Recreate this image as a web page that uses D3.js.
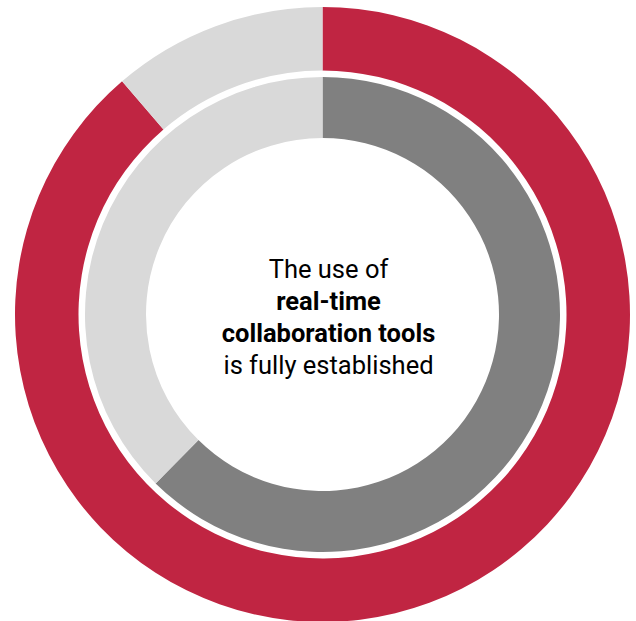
<!DOCTYPE html>
<meta charset="utf-8">
<style>
  body { margin: 0; background: #fff; }
  .label { font-family: Roboto, "Noto Sans", sans-serif; font-size: 25.5px; fill: #000; }
</style>
<body>
<script src="https://cdnjs.cloudflare.com/ajax/libs/d3/7.8.5/d3.min.js"></script>
<script>
  // values (share in %)
  var outerLabels = ["Yes", "No"];
  var outerValues = [88.7, 11.3];
  var innerLabels = ["Yes", "No"];
  var innerValues = [62.4, 37.6];
  var textLines = ["The use of", "real-time", "collaboration tools", "is fully established"];
  var boldLines = [false, true, true, false];

  var width = 636, height = 621;
  var cx = 322.5, cy = 314.5;

  var svg = d3.select("body").append("svg")
    .attr("width", width)
    .attr("height", height);

  var g = svg.append("g")
    .attr("transform", "translate(" + cx + "," + cy + ")");

  var pie = d3.pie().sort(null);

  var outerColor = d3.scaleOrdinal().domain(outerLabels).range(["#c02542", "#d9d9d9"]);
  var innerColor = d3.scaleOrdinal().domain(innerLabels).range(["#808080", "#d9d9d9"]);

  var outerArc = d3.arc().innerRadius(244).outerRadius(307.5);
  var innerArc = d3.arc().innerRadius(176.5).outerRadius(237.5);

  g.selectAll(".outer")
    .data(pie(outerValues))
    .enter().append("path")
    .attr("class", "outer")
    .attr("d", outerArc)
    .style("fill", function(d, i) { return outerColor(outerLabels[i]); });

  g.selectAll(".inner")
    .data(pie(innerValues))
    .enter().append("path")
    .attr("class", "inner")
    .attr("d", innerArc)
    .style("fill", function(d, i) { return innerColor(innerLabels[i]); });

  // center text (sits a little right of the ring centre)
  var lineH = 32;
  g.selectAll(".label")
    .data(textLines)
    .enter().append("text")
    .attr("class", "label")
    .attr("text-anchor", "middle")
    .attr("x", 6)
    .attr("y", function(d, i) { return 277.5 - cy + i * lineH; })
    .style("font-weight", function(d, i) { return boldLines[i] ? "bold" : "normal"; })
    .text(function(d) { return d; });
</script>
</body>
